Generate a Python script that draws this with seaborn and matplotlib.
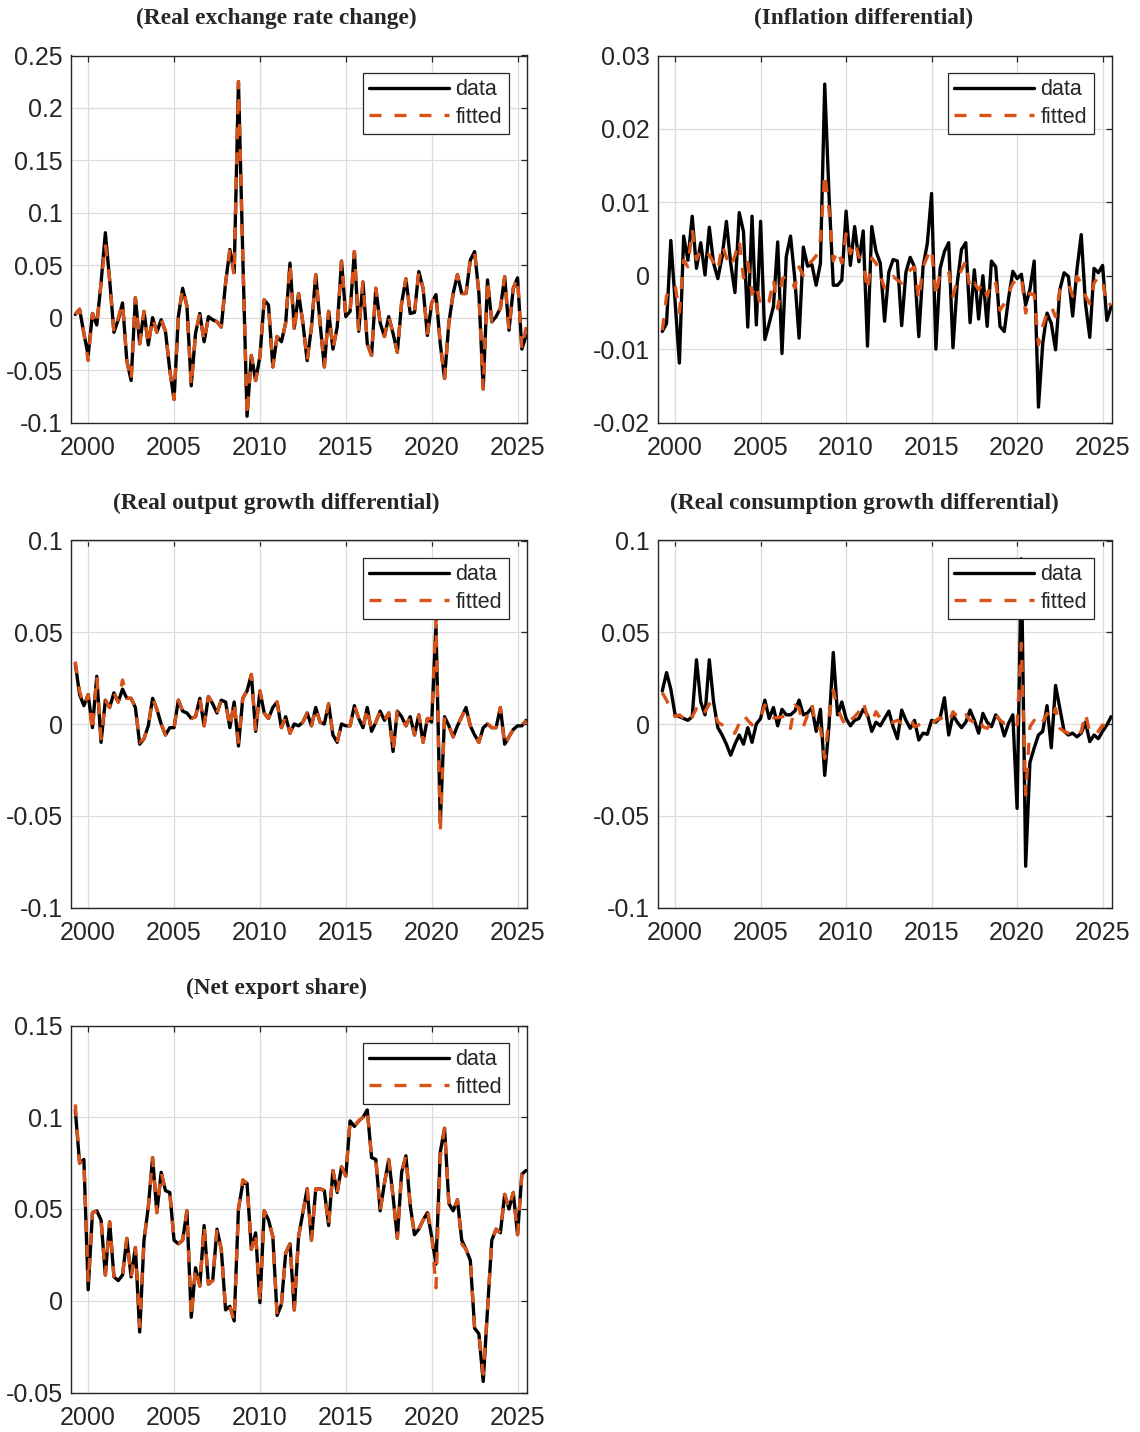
import numpy as np
import pandas as pd
import matplotlib
matplotlib.use("Agg")
import matplotlib.pyplot as plt
from matplotlib.ticker import FuncFormatter
import seaborn as sns

# quarterly sample, first point 1999Q2
start_year = 1999.25

# (Real exchange rate change)
rer_data = [
    0.003, 0.008, -0.015,
    -0.036, 0.004, -0.007, 0.033,
    0.081, 0.036, -0.014, -0.002,
    0.014, -0.041, -0.060, 0.019,
    -0.025, 0.006, -0.026, 0.000,
    -0.014, -0.002, -0.013, -0.050,
    -0.078, 0.001, 0.028, 0.011,
    -0.065, -0.015, 0.004, -0.023,
    0.001, -0.002, -0.004, -0.009,
    0.033, 0.065, 0.043, 0.225,
    0.060, -0.094, -0.036, -0.060,
    -0.037, 0.017, 0.012, -0.047,
    -0.018, -0.023, -0.005, 0.052,
    -0.010, 0.023, -0.005, -0.041,
    -0.009, 0.041, -0.005, -0.047,
    0.006, -0.030, -0.009, 0.054,
    0.001, 0.006, 0.063, -0.013,
    0.034, -0.025, -0.036, 0.028,
    -0.005, -0.018, 0.001, -0.015,
    -0.033, 0.014, 0.037, 0.004,
    0.005, 0.044, 0.028, -0.017,
    0.014, 0.022, -0.025, -0.058,
    -0.005, 0.023, 0.041, 0.023,
    0.023, 0.055, 0.063, 0.023,
    -0.068, 0.036, -0.004, 0.001,
    0.009, 0.039, -0.012, 0.028,
    0.038, -0.030, -0.017,
]
rer_fitted = [
    0.003, 0.008, -0.015,
    -0.041, 0.004, -0.007, 0.033,
    0.070, 0.036, -0.014, 0.000,
    0.014, -0.041, -0.060, 0.019,
    -0.025, 0.006, -0.026, 0.000,
    -0.014, -0.002, -0.013, -0.050,
    -0.078, 0.001, 0.028, 0.011,
    -0.065, -0.015, 0.004, -0.023,
    0.001, -0.002, -0.004, -0.009,
    0.033, 0.065, 0.040, 0.225,
    0.060, -0.094, -0.036, -0.060,
    -0.037, 0.017, 0.012, -0.047,
    -0.018, -0.023, -0.005, 0.052,
    -0.015, 0.023, -0.005, -0.041,
    -0.009, 0.041, -0.005, -0.047,
    0.006, -0.030, -0.009, 0.054,
    0.001, 0.006, 0.063, -0.013,
    0.034, -0.025, -0.036, 0.028,
    -0.005, -0.018, 0.001, -0.015,
    -0.033, 0.014, 0.037, 0.004,
    0.005, 0.044, 0.028, -0.015,
    0.014, 0.022, -0.025, -0.058,
    -0.005, 0.023, 0.041, 0.023,
    0.023, 0.055, 0.063, 0.023,
    -0.068, 0.036, -0.004, 0.001,
    0.009, 0.039, -0.012, 0.028,
    0.038, -0.030, -0.009,
]

# (Inflation differential)
infl_data = [
    -0.0076, -0.0065, 0.0048,
    -0.0035, -0.0119, 0.0054, 0.0021,
    0.0081, 0.0010, 0.0045, 0.0001,
    0.0066, 0.0017, -0.0004, 0.0026,
    0.0074, 0.0017, -0.0023, 0.0086,
    0.0060, -0.0070, 0.0081, -0.0067,
    0.0074, -0.0087, -0.0065, -0.0042,
    0.0046, -0.0106, 0.0026, 0.0054,
    -0.0004, -0.0085, 0.0039, 0.0013,
    0.0015, -0.0013, 0.0017, 0.0261,
    0.0110, -0.0013, -0.0013, -0.0006,
    0.0088, 0.0014, 0.0067, 0.0019,
    0.0061, -0.0096, 0.0067, 0.0033,
    0.0017, -0.0062, 0.0005, 0.0022,
    0.0020, -0.0068, 0.0005, 0.0025,
    0.0012, -0.0083, 0.0012, 0.0044,
    0.0112, -0.0100, 0.0010, 0.0033,
    0.0045, -0.0098, -0.0010, 0.0036,
    0.0045, -0.0064, 0.0008, -0.0059,
    0.0000, -0.0069, 0.0020, 0.0012,
    -0.0069, -0.0076, -0.0031, 0.0006,
    -0.0004, 0.0002, -0.0040, -0.0019,
    0.0020, -0.0179, -0.0092, -0.0051,
    -0.0065, -0.0101, -0.0019, 0.0004,
    -0.0001, -0.0055, 0.0008, 0.0056,
    -0.0038, -0.0084, 0.0010, 0.0004,
    0.0014, -0.0061, -0.0042,
]
infl_fitted = [
    -0.0074, -0.0028, -0.0015,
    -0.0013, -0.0050, 0.0021, 0.0012,
    0.0063, 0.0022, 0.0037, 0.0033,
    0.0028, 0.0018, 0.0007, 0.0042,
    0.0025, 0.0012, 0.0027, 0.0048,
    -0.0003, 0.0018, -0.0025, -0.0012,
    -0.0042, -0.0040, -0.0035, -0.0005,
    -0.0045, -0.0005, 0.0000, -0.0002,
    -0.0017, 0.0012, 0.0000, 0.0015,
    0.0020, 0.0027, 0.0050, 0.0139,
    0.0090, 0.0020, 0.0035, 0.0017,
    0.0057, 0.0030, 0.0046, 0.0026,
    0.0017, -0.0020, 0.0024, 0.0017,
    0.0000, -0.0017, -0.0006, -0.0001,
    -0.0006, -0.0010, -0.0001, 0.0008,
    0.0012, -0.0033, 0.0012, 0.0026,
    0.0037, -0.0028, 0.0005, 0.0008,
    0.0005, -0.0028, -0.0006, 0.0008,
    0.0020, -0.0019, -0.0010, -0.0019,
    -0.0010, -0.0028, -0.0006, -0.0010,
    -0.0047, -0.0038, -0.0024, -0.0010,
    -0.0006, -0.0001, -0.0051, -0.0024,
    -0.0026, -0.0094, -0.0069, -0.0051,
    -0.0042, -0.0056, -0.0019, -0.0013,
    -0.0010, -0.0028, -0.0001, -0.0010,
    -0.0028, -0.0038, -0.0010, -0.0001,
    -0.0006, -0.0042, -0.0038,
]

# (Real output growth differential)
output_data = [
    0.033, 0.016, 0.010,
    0.016, -0.002, 0.026, -0.010,
    0.013, 0.009, 0.017, 0.012,
    0.019, 0.014, 0.014, 0.009,
    -0.011, -0.008, -0.001, 0.014,
    0.008, 0.000, -0.006, -0.002,
    -0.002, 0.013, 0.007, 0.006,
    0.003, 0.004, 0.014, -0.001,
    0.015, 0.011, 0.006, 0.013,
    0.012, -0.002, 0.012, -0.012,
    0.014, 0.018, 0.027, -0.004,
    0.018, 0.006, 0.003, 0.009,
    0.012, -0.002, 0.004, -0.005,
    0.000, -0.001, 0.001, 0.006,
    -0.001, 0.009, 0.001, 0.000,
    0.011, -0.006, -0.010, 0.000,
    -0.001, -0.001, 0.010, 0.003,
    -0.002, 0.009, -0.004, 0.001,
    0.007, 0.002, 0.006, -0.015,
    0.007, 0.004, -0.001, 0.004,
    -0.006, 0.005, -0.010, 0.003,
    0.001, 0.054, -0.054, 0.004,
    -0.001, -0.007, -0.001, 0.004,
    0.009, -0.001, -0.006, -0.010,
    -0.002, 0.000, -0.002, -0.002,
    0.009, -0.011, -0.007, -0.003,
    -0.001, -0.001, 0.002,
]
output_fitted = [
    0.034, 0.018, 0.010,
    0.016, -0.004, 0.026, -0.008,
    0.013, 0.009, 0.017, 0.012,
    0.024, 0.014, 0.014, 0.009,
    -0.010, -0.008, -0.001, 0.014,
    0.008, 0.000, -0.006, -0.002,
    -0.002, 0.013, 0.007, 0.006,
    0.003, 0.004, 0.014, -0.001,
    0.015, 0.011, 0.006, 0.013,
    0.012, -0.002, 0.012, -0.010,
    0.014, 0.018, 0.027, -0.004,
    0.018, 0.006, 0.003, 0.009,
    0.012, -0.002, 0.004, -0.005,
    0.000, -0.001, 0.001, 0.006,
    -0.001, 0.009, 0.001, 0.000,
    0.011, -0.006, -0.010, 0.000,
    -0.001, -0.001, 0.010, 0.003,
    -0.002, 0.009, -0.004, 0.001,
    0.007, 0.002, 0.006, -0.015,
    0.007, 0.004, -0.001, 0.004,
    -0.006, 0.005, -0.010, 0.003,
    0.003, 0.057, -0.059, 0.004,
    -0.001, -0.007, -0.001, 0.004,
    0.009, -0.001, -0.006, -0.010,
    -0.002, 0.000, -0.002, -0.002,
    0.009, -0.012, -0.007, -0.003,
    -0.001, -0.001, 0.002,
]

# (Real consumption growth differential)
cons_data = [
    0.018, 0.028, 0.019,
    0.005, 0.004, 0.003, 0.002,
    0.004, 0.035, 0.012, 0.005,
    0.035, 0.012, -0.002, -0.006,
    -0.011, -0.017, -0.011, -0.006,
    -0.011, -0.002, -0.010, 0.000,
    0.003, 0.013, 0.003, 0.009,
    -0.001, 0.008, 0.005, 0.005,
    0.007, 0.013, 0.005, 0.006,
    0.009, -0.004, 0.008, -0.028,
    -0.001, 0.039, 0.005, 0.012,
    0.003, -0.001, 0.002, 0.003,
    0.008, 0.005, -0.004, 0.001,
    -0.001, 0.003, 0.007, -0.0015,
    -0.008, 0.0076, 0.002, -0.0024,
    0.002, -0.0087, -0.005, -0.0056,
    0.002, 0.001, 0.0034, 0.0143,
    -0.006, 0.005, 0.001, -0.002,
    0.001, 0.0076, 0.002, -0.005,
    0.0058, 0.001, -0.0015, 0.005,
    0.002, -0.0065, 0.0004, 0.005,
    -0.046, 0.090, -0.0775, -0.021,
    -0.013, -0.006, -0.004, 0.010,
    -0.013, 0.021, 0.0085, -0.004,
    -0.006, -0.005, -0.007, -0.005,
    0.001, -0.0096, -0.006, -0.008,
    -0.004, -0.0005, 0.004,
]
cons_fitted = [
    0.017, 0.013, 0.0076,
    0.004, 0.005, 0.003, 0.0004,
    0.004, 0.0085, 0.011, 0.0067,
    0.011, 0.0076, 0.001, -0.0005,
    -0.0024, -0.005, -0.005, 0.0004,
    0.005, 0.002, -0.0005, 0.003,
    0.004, 0.0103, 0.005, 0.0034,
    0.0034, 0.004, 0.004, -0.0024,
    0.0103, 0.0085, -0.0015, 0.005,
    0.011, -0.0024, -0.0024, -0.0187,
    0.004, 0.0185, 0.0085, 0.003,
    -0.0015, 0.002, 0.004, 0.0067,
    0.012, 0.004, 0.001, 0.0067,
    0.003, 0.002, 0.001, 0.001,
    0.002, 0.0004, 0.002, 0.003,
    -0.0015, -0.0005, 0.0004, 0.001,
    0.0004, 0.002, 0.0034, 0.002,
    0.0004, 0.0067, 0.004, 0.002,
    0.005, 0.002, 0.001, 0.0034,
    -0.0015, -0.0024, 0.001, 0.005,
    0.002, 0.0004, 0.001, 0.002,
    -0.0005, 0.044, -0.0386, -0.0015,
    0.002, -0.0015, 0.001, 0.0058,
    0.002, 0.0085, -0.0024, -0.004,
    -0.005, -0.005, -0.007, -0.004,
    0.0058, -0.005, -0.006, -0.004,
    -0.0005, -0.0015, 0.001,
]

# (Net export share)
nx_data = [
    0.104, 0.075, 0.077,
    0.006, 0.048, 0.049, 0.044,
    0.014, 0.043, 0.013, 0.011,
    0.014, 0.034, 0.013, 0.029,
    -0.017, 0.033, 0.051, 0.078,
    0.048, 0.070, 0.060, 0.059,
    0.033, 0.031, 0.033, 0.049,
    -0.009, 0.018, 0.008, 0.041,
    0.009, 0.011, 0.039, 0.028,
    -0.005, -0.003, -0.011, 0.050,
    0.064, 0.064, 0.028, 0.037,
    -0.001, 0.049, 0.044, 0.035,
    -0.008, -0.002, 0.026, 0.031,
    -0.005, 0.035, 0.048, 0.061,
    0.033, 0.061, 0.061, 0.060,
    0.041, 0.071, 0.059, 0.073,
    0.068, 0.098, 0.095, 0.098,
    0.100, 0.104, 0.078, 0.077,
    0.049, 0.064, 0.077, 0.057,
    0.034, 0.070, 0.079, 0.052,
    0.036, 0.039, 0.044, 0.048,
    0.035, 0.020, 0.081, 0.094,
    0.053, 0.049, 0.055, 0.033,
    0.028, 0.022, -0.015, -0.018,
    -0.044, -0.005, 0.033, 0.039,
    0.037, 0.058, 0.050, 0.059,
    0.036, 0.069, 0.071,
]
nx_fitted = [
    0.107, 0.075, 0.077,
    0.010, 0.048, 0.049, 0.044,
    0.014, 0.043, 0.013, 0.011,
    0.014, 0.034, 0.013, 0.029,
    -0.014, 0.033, 0.051, 0.078,
    0.048, 0.070, 0.060, 0.059,
    0.033, 0.031, 0.033, 0.049,
    -0.009, 0.018, 0.008, 0.041,
    0.009, 0.011, 0.039, 0.028,
    -0.005, -0.003, -0.011, 0.050,
    0.066, 0.064, 0.028, 0.037,
    -0.001, 0.049, 0.044, 0.035,
    -0.008, -0.002, 0.026, 0.031,
    -0.005, 0.035, 0.048, 0.061,
    0.033, 0.061, 0.061, 0.060,
    0.041, 0.071, 0.059, 0.073,
    0.068, 0.098, 0.095, 0.098,
    0.100, 0.104, 0.078, 0.077,
    0.049, 0.064, 0.077, 0.057,
    0.034, 0.070, 0.079, 0.052,
    0.036, 0.039, 0.044, 0.050,
    0.036, 0.007, 0.078, 0.094,
    0.053, 0.049, 0.055, 0.031,
    0.028, 0.022, -0.015, -0.018,
    -0.040, -0.005, 0.033, 0.039,
    0.037, 0.058, 0.050, 0.059,
    0.036, 0.069, 0.071,
]

titles = ["(Real exchange rate change)", "(Inflation differential)",
          "(Real output growth differential)", "(Real consumption growth differential)",
          "(Net export share)"]
y_limits = [(-0.1, 0.25), (-0.02, 0.03), (-0.1, 0.1), (-0.1, 0.1), (-0.05, 0.15)]
y_ticks = [
    [-0.1, -0.05, 0, 0.05, 0.1, 0.15, 0.2, 0.25],
    [-0.02, -0.01, 0, 0.01, 0.02, 0.03],
    [-0.1, -0.05, 0, 0.05, 0.1],
    [-0.1, -0.05, 0, 0.05, 0.1],
    [-0.05, 0, 0.05, 0.1, 0.15],
]
x_ticks = [2000, 2005, 2010, 2015, 2020, 2025]
series = [(rer_data, rer_fitted), (infl_data, infl_fitted), (output_data, output_fitted),
          (cons_data, cons_fitted), (nx_data, nx_fitted)]

sns.set_style("white")
plt.rcParams["font.family"] = ["Liberation Sans", "DejaVu Sans"]
plt.rcParams["axes.unicode_minus"] = False

W, H = 1140, 1432
fig = plt.figure(figsize=(W / 100, H / 100), dpi=100)

# axes boxes in pixels: (left, top, right, bottom)
col_x = [(71, 527), (658, 1112)]
row_y = [(55.5, 422.5), (540.5, 907.5), (1025.5, 1392.5)]
title_x = [276, 864]

for i, (title, (data, fitted)) in enumerate(zip(titles, series)):
    r, c = divmod(i, 2)
    x0, x1 = col_x[c]
    y0, y1 = row_y[r]
    ax = fig.add_axes([x0 / W, 1 - y1 / H, (x1 - x0) / W, (y1 - y0) / H])

    df = pd.DataFrame({
        "t": start_year + 0.25 * np.arange(len(data)),
        "data": data,
        "fitted": fitted,
    })
    sns.lineplot(data=df, x="t", y="data", ax=ax, color="black",
                 linewidth=2.4, label="data")
    sns.lineplot(data=df, x="t", y="fitted", ax=ax, color="#D95319",
                 linewidth=2.4, label="fitted")
    ax.lines[1].set_dashes((3.6, 3.9))

    ax.set_xlim(1999.0, 2025.55)
    ax.set_ylim(*y_limits[i])
    ax.set_xticks(x_ticks)
    ax.set_yticks(y_ticks[i])
    ax.yaxis.set_major_formatter(FuncFormatter(lambda v, p: "{:g}".format(round(v, 4))))
    ax.set_xlabel("")
    ax.set_ylabel("")
    ax.grid(True, color="#dcdcdc", linewidth=0.9)
    for sp in ax.spines.values():
        sp.set_color("#262626")
        sp.set_linewidth(1.0)
    ax.tick_params(direction="in", length=4, width=0.9, color="#262626",
                   top=True, right=True, labelsize=18, labelcolor="#262626")
    ax.tick_params(axis="y", pad=6)
    ax.tick_params(axis="x", pad=10)

    leg = ax.legend(loc="upper right", bbox_to_anchor=(1 - 18.5 / (x1 - x0), 1 - 17.5 / (y1 - y0)),
                    borderaxespad=0, fontsize=15.5, handlelength=3.7, handletextpad=0.3,
                    borderpad=0.3, labelspacing=0.3, fancybox=False, framealpha=1)
    leg.get_frame().set_edgecolor("#262626")
    leg.get_frame().set_linewidth(0.9)
    for t in leg.get_texts():
        t.set_color("#262626")

    fig.text(title_x[c] / W, 1 - (y0 - 37.5) / H, title, ha="center", va="center",
             family=["Liberation Serif", "DejaVu Serif"], fontweight="bold", fontsize=16.8)

fig.savefig("out.png", dpi=100)
